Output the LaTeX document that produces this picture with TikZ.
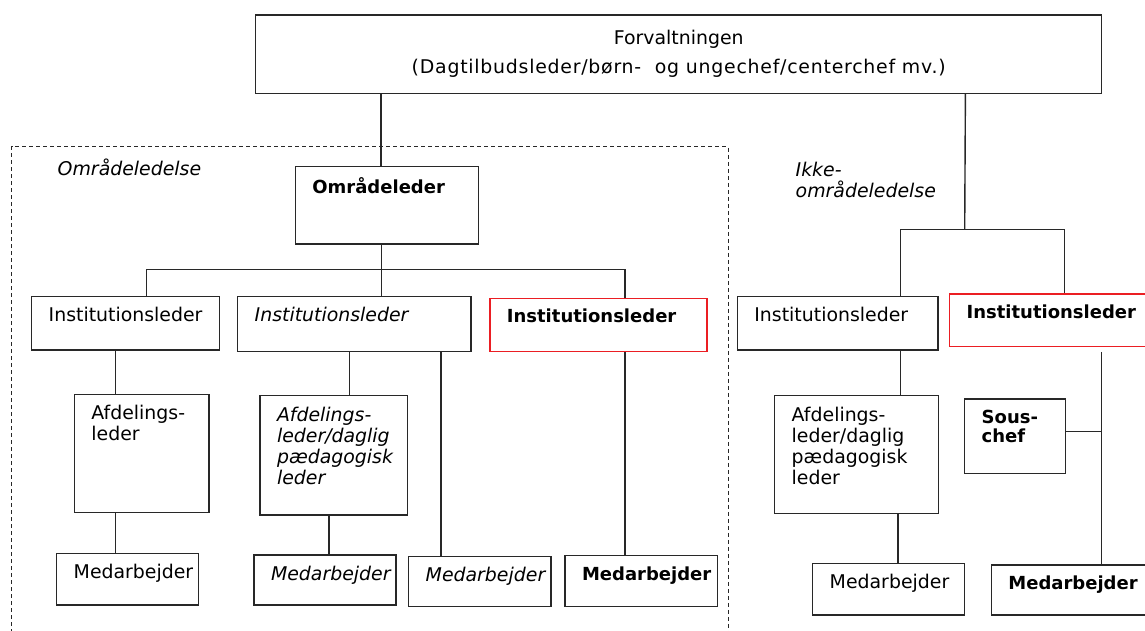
\documentclass[tikz,border=0pt]{standalone}
\usepackage{fontspec}
\setmainfont{DejaVu Sans}
\usetikzlibrary{calc}

\definecolor{linegrey}{RGB}{40,40,40}
\definecolor{redline}{RGB}{235,30,35}

% box with text at the top left: [style]{name}{x}{y}{width}{height}{text}
\newcommand{\orgbox}[7][unit]{%
  \node[#1] (#2) at (#3,#4)
    {\parbox[t][\dimexpr#6pt-22pt\relax][t]{\dimexpr#5pt-34pt\relax}{#7}};}

\begin{document}
\begin{tikzpicture}[x=1pt,y=-1pt,line width=1.4pt,draw=linegrey,
  font=\fontsize{18.9}{21}\selectfont,
  unit/.style={draw=linegrey,anchor=north west,inner xsep=17pt,inner ysep=11pt},
  itunit/.style={unit,font=\fontsize{18.9}{21}\selectfont\itshape},
  bfunit/.style={unit,font=\fontsize{18}{19}\selectfont\bfseries},
  redunit/.style={bfunit,draw=redline,line width=1.2pt},
  area/.style={anchor=north west,inner sep=0pt,align=left,font=\fontsize{18.9}{21.7}\selectfont\itshape}]
\useasboundingbox (0,0) rectangle (1145,631);

% top
\node[draw=linegrey,anchor=north west,minimum width=846,minimum height=78.4,
  align=center,font=\fontsize{18.9}{29}\selectfont] (top) at (255,14.3)
  {Forvaltningen\\{\addfontfeature{LetterSpace=4}(Dagtilbudsleder/børn-~ og ungechef/centerchef mv.)}};

% area frame
\draw[line width=1.1pt,dash pattern=on 4pt off 3pt] (11.7,640) |- (728.3,146.7) -- (728.3,640);
\node[area] (lblA) at (57,158) {Områdeledelse};
\node[area] (lblB) at (795,161) {Ikke-\\områdeledelse};

% boxes, left part
\orgbox[bfunit]{omr}{294.7}{166}{183}{77.3}{Områdeleder}
\orgbox{inst1}{31}{295.7}{187.7}{53.6}{Institutionsleder}
\orgbox[itunit]{inst2}{237}{295.7}{233.3}{55}{Institutionsleder}
\orgbox[redunit]{red1}{489.3}{297.7}{217}{53}{Institutionsleder}
\orgbox{afd1}{73.7}{393.7}{134.6}{118}{Afdelings-\\leder}
\orgbox[itunit]{afd2}{259.3}{395}{147.7}{119.3}{Afdelings-\\leder/daglig\\pædagogisk\\leder}
\orgbox{med1}{56}{552.7}{141.7}{51.6}{Medarbejder}
\orgbox[itunit]{med2}{253.3}{554.3}{142}{50}{Medarbejder}
\orgbox[itunit]{med3}{408}{555.7}{142.3}{50}{Medarbejder}
\orgbox[bfunit]{med4}{564.3}{555}{152.4}{50.7}{Medarbejder}

% boxes, right part
\orgbox{inst4}{736.7}{295.7}{200.6}{53.6}{Institutionsleder}
\orgbox[redunit]{red2}{949}{293.3}{220}{52.7}{Institutionsleder}
\orgbox{afd3}{774}{395}{164}{117.7}{Afdelings-\\leder/daglig\\pædagogisk\\leder}
\orgbox[bfunit]{sous}{964}{398.3}{100.7}{74.4}{Sous-\\chef}
\orgbox{med5}{812}{562.7}{152}{51.6}{Medarbejder}
\orgbox[bfunit]{med6}{990.7}{564.3}{180}{50}{Medarbejder}

% connectors
\coordinate (busL) at (381,269.3);
\coordinate (busR) at (964.7,229.3);
\draw ([xshift=-5.9]omr.north) -- ([xshift=-5.9]omr.north |- top.south);
\draw ([xshift=-5.2]omr.south) -- ([xshift=-5.2]omr.south |- inst2.north);
\draw ([xshift=21.1]inst1.north) |- (busL) -| ([xshift=135.7]red1.north west);
\draw ([xshift=84.3]inst1.south west) -- ([xshift=84.3]inst1.south west |- afd1.north);
\draw ([xshift=41.6]afd1.south west) -- ([xshift=41.6]afd1.south west |- med1.north);
\draw ([xshift=112.3]inst2.south west) -- ([xshift=112.3]inst2.south west |- afd2.north);
\draw ([xshift=69.7]afd2.south west) -- ([xshift=69.7]afd2.south west |- med2.north);
\draw ([xshift=204]inst2.south west) -- ([xshift=204]inst2.south west |- med3.north);
\draw ([xshift=135.7]red1.south west) -- ([xshift=135.7]red1.south west |- med4.north);

\draw ([xshift=286.7]top.south) -- (busR);
\draw ([xshift=163.7]inst4.north west) |- (busR) -| ([xshift=115.7]red2.north west);
\draw ([xshift=164]inst4.south west) -- ([xshift=164]inst4.south west |- afd3.north);
\draw ([xshift=124]afd3.south west) -- ([xshift=124]afd3.south west |- med5.north);
\draw ([xshift=152.3,yshift=-4.7]red2.south west) -- ([xshift=152.3]red2.south west |- med6.north);
\draw ([yshift=4.8]sous.east) -- ([yshift=4.8]sous.east -| 1101.3,0);
\end{tikzpicture}
\end{document}
